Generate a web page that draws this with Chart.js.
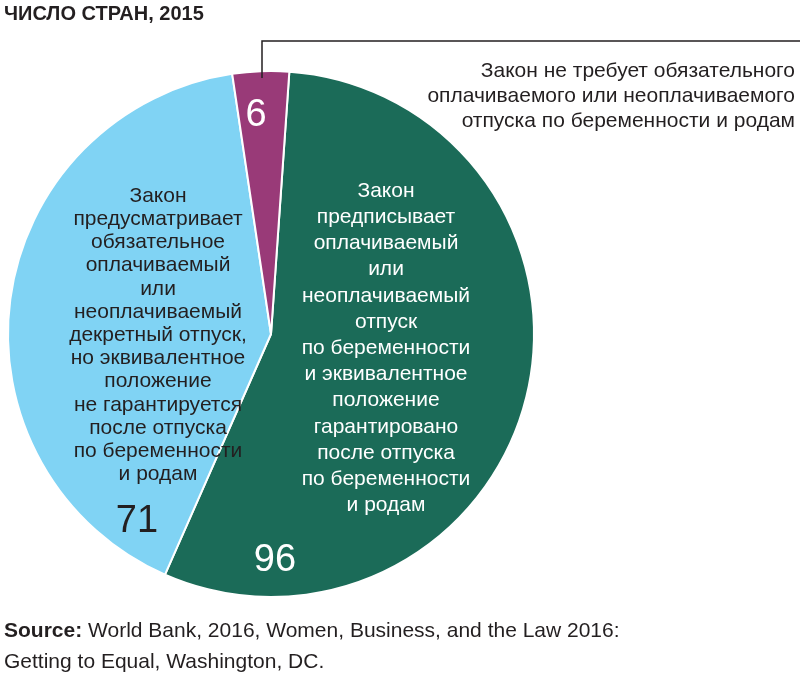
<!DOCTYPE html>
<html><head><meta charset="utf-8">
<script src="https://cdn.jsdelivr.net/npm/chart.js@4/dist/chart.umd.min.js"></script>
<style>
body{margin:0;background:#fff;font-family:"Liberation Sans Narrow","Liberation Sans",Arial,sans-serif;}
#wrap{position:relative;width:800px;height:676px;}
#title{position:absolute;left:4px;top:2px;font-weight:bold;font-size:20px;color:#231f20;}
#src{position:absolute;left:4px;top:614px;font-size:21px;line-height:31px;color:#231f20;}
canvas{position:absolute;left:0;top:0;}
</style></head><body>
<div id="wrap">
<canvas id="c" width="800" height="676"></canvas>
<div id="title">ЧИСЛО СТРАН, 2015</div>
<div id="src"><b>Source:</b> World Bank, 2016, Women, Business, and the Law 2016:<br>Getting to Equal, Washington, DC.</div>
</div>
<script>
const categories = [
  'Закон предписывает оплачиваемый или неоплачиваемый отпуск по беременности и эквивалентное положение гарантировано после отпуска по беременности и родам',
  'Закон предусматривает обязательное оплачиваемый или неоплачиваемый декретный отпуск, но эквивалентное положение не гарантируется после отпуска по беременности и родам',
  'Закон не требует обязательного оплачиваемого или неоплачиваемого отпуска по беременности и родам'
];
const values = [96, 71, 6];
const colors = ['#1b6b58', '#80d3f4', '#993a78'];

const greenLines = ['Закон','предписывает','оплачиваемый','или','неоплачиваемый','отпуск','по беременности','и эквивалентное','положение','гарантировано','после отпуска','по беременности','и родам'];
const blueLines = ['Закон','предусматривает','обязательное','оплачиваемый','или','неоплачиваемый','декретный отпуск,','но эквивалентное','положение','не гарантируется','после отпуска','по беременности','и родам'];
const calloutLines = ['Закон не требует обязательного','оплачиваемого или неоплачиваемого','отпуска по беременности и родам'];

const labels = {
  id: 'labels',
  afterDraw(chart) {
    const ctx = chart.ctx;
    const F = '"Liberation Sans Narrow","Liberation Sans",Arial,sans-serif';
    ctx.save();
    ctx.textAlign = 'center';
    ctx.textBaseline = 'middle';
    ctx.font = '21px ' + F;
    ctx.fillStyle = '#fff';
    greenLines.forEach((t, i) => ctx.fillText(t, 386, 191 + i * 26.2));
    ctx.fillStyle = '#231f20';
    blueLines.forEach((t, i) => ctx.fillText(t, 158, 196 + i * 23.2));
    ctx.font = '38px Arial,sans-serif';
    ctx.fillStyle = '#fff';
    ctx.fillText(String(values[2]), 256, 116);
    ctx.fillText(String(values[0]), 275, 561);
    ctx.fillStyle = '#231f20';
    ctx.fillText(String(values[1]), 137, 522);
    // callout
    ctx.strokeStyle = '#231f20';
    ctx.lineWidth = 1.5;
    ctx.beginPath();
    ctx.moveTo(262, 78); ctx.lineTo(262, 41); ctx.lineTo(800, 41);
    ctx.stroke();
    ctx.textAlign = 'right';
    ctx.font = '21px ' + F;
    calloutLines.forEach((t, i) => ctx.fillText(t, 795, 71 + i * 25));
    ctx.restore();
  }
};

new Chart(document.getElementById('c'), {
  type: 'pie',
  data: { labels: categories, datasets: [{ data: values, backgroundColor: colors, borderColor: '#fff', borderWidth: 2 }] },
  options: {
    responsive: false,
    animation: false,
    rotation: 4,
    layout: { padding: { left: 7, top: 70, right: 265, bottom: 78 } },
    plugins: { legend: { display: false }, tooltip: { enabled: false } }
  },
  plugins: [labels]
});
</script>
</body></html>
